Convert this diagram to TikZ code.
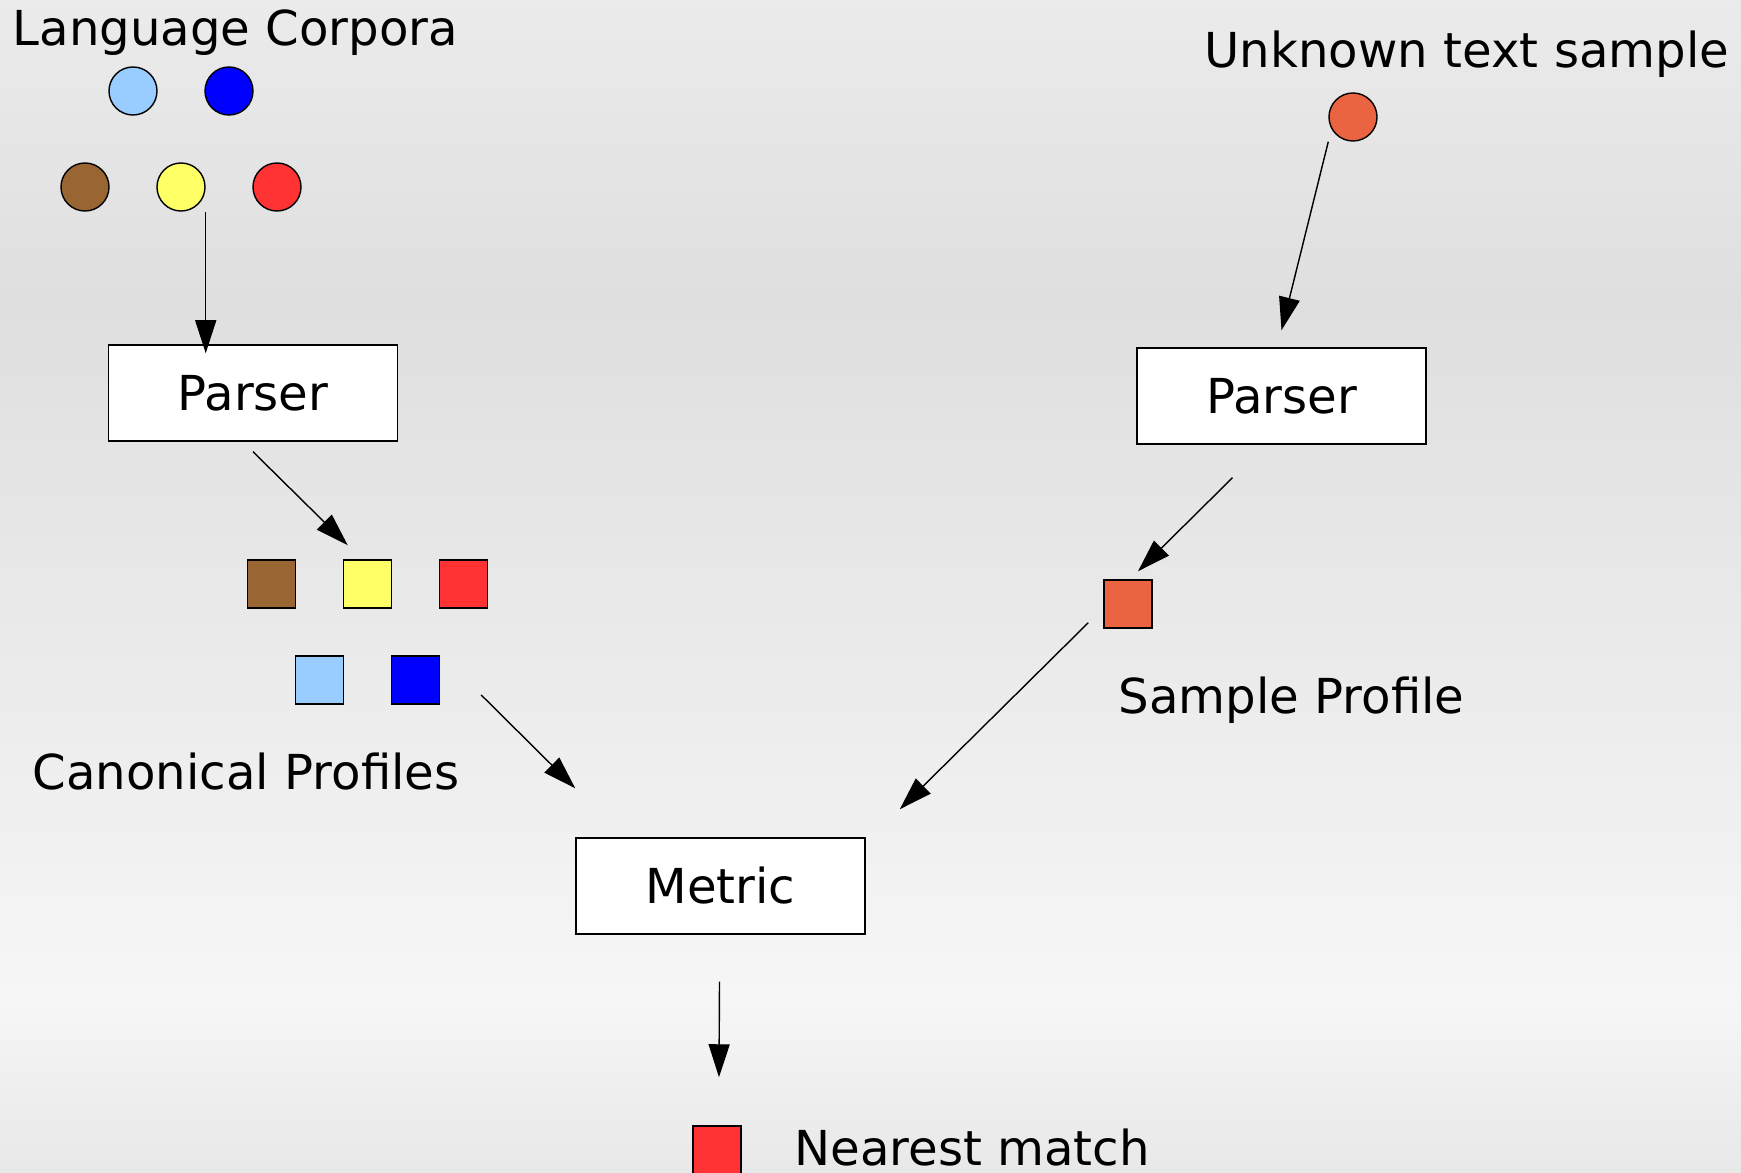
\documentclass[tikz,border=0pt]{standalone}
\usepackage{fontspec}
\setmainfont{DejaVu Sans}
\usetikzlibrary{arrows.meta,calc}

\definecolor{bgtop}{HTML}{EBEBEB}
\definecolor{bgdark}{HTML}{DFDFDF}
\definecolor{bglight}{HTML}{F6F6F6}
\definecolor{bgbot}{HTML}{E8E8E8}
\definecolor{cLightBlue}{HTML}{99CCFF}
\definecolor{cBlue}{HTML}{0000FF}
\definecolor{cBrown}{HTML}{996633}
\definecolor{cYellow}{HTML}{FFFF66}
\definecolor{cRed}{HTML}{FF3333}
\definecolor{cOrange}{HTML}{EB6441}

\pgfdeclareverticalshading{pagebg}{100bp}{color(0bp)=(bgbot); color(25bp)=(bgbot); color(32.4bp)=(bglight); color(62bp)=(bgdark); color(75bp)=(bgtop); color(100bp)=(bgtop)}

\newcommand{\txtsize}{\fontsize{13.7}{16}\selectfont}

\tikzstyle{corpus}=[circle, draw, line width=0.4pt, minimum size=0.48cm, inner sep=0pt]
\tikzstyle{profile}=[draw, line width=0.4pt, minimum size=0.48cm, inner sep=0pt]
\tikzstyle{stage}=[draw, fill=white, line width=0.4pt, minimum width=2.89cm, minimum height=0.96cm, inner sep=0pt, font=\txtsize]
\tikzstyle{lbl}=[inner sep=0pt, anchor=base west, font=\txtsize]
\tikzstyle{flow}=[line width=0.4pt, -{Triangle[length=0.33cm, width=0.21cm]}]

\begin{document}
\begin{tikzpicture}[x=0.01cm, y=-0.01cm]
      \shade[shading=pagebg] (0,0) rectangle (1741,1173);
      \useasboundingbox (0,0) rectangle (1741,1173);

      % corpora
      \node[lbl] (corpora) at (12,46) {Language Corpora};
      \node[corpus, fill=cLightBlue] (c1) at (133,91) {};
      \node[corpus, fill=cBlue] (c2) at (229,91) {};
      \node[corpus, fill=cBrown] (c3) at (85,187) {};
      \node[corpus, fill=cYellow] (c4) at (181,187) {};
      \node[corpus, fill=cRed] (c5) at (277,187) {};

      % unknown sample
      \node[lbl] (unknown) at (1204,68) {Unknown text sample};
      \node[corpus, fill=cOrange] (unk) at (1353,117) {};

      \node[stage] (lparser) at (253,393) {Parser};
      \node[stage] (rparser) at (1281.5,396) {Parser};

      % profiles
      \node[profile, fill=cBrown] (p3) at (271.5,584) {};
      \node[profile, fill=cYellow] (p4) at (367.5,584) {};
      \node[profile, fill=cRed] (p5) at (463.5,584) {};
      \node[profile, fill=cLightBlue] (p1) at (319.5,680) {};
      \node[profile, fill=cBlue] (p2) at (415.5,680) {};
      \node[lbl] (canon) at (32,790) {Canonical Profiles};

      \node[profile, fill=cOrange] (sprof) at (1128,604) {};
      \node[lbl] (sproflbl) at (1118,713) {Sample Profile};

      \node[stage] (metric) at (720.5,886) {Metric};

      \node[profile, fill=cRed] (match) at (717,1150) {};
      \node[lbl] (nearest) at (794,1165) {Nearest match};

      \draw[flow] (c4.south -| c4.east) -- ($(c4.east |- lparser.north)+(0,9)$);
      \draw[flow] (unk.south -| unk.west) -- ($(rparser.north)+(0,-17)$);
      \draw[flow] ($(lparser.south)+(0,10)$) -- ($(p4.north west)+(5,-14)$);
      \draw[flow] ($(rparser.south)+(-49,33)$) -- ($(sprof.north)+(10,-8)$);
      \draw[flow] ($(p2.east)+(41,15)$) -- ($(metric.north west)+(0,-49)$);
      \draw[flow] ($(sprof.south west)+(-15,-6)$) -- ($(metric.north east)+(34,-28)$);
      \draw[flow] ($(metric.south)+(-1,47)$) -- ($(match.north)+(2,-48)$);
    \end{tikzpicture}
\end{document}
